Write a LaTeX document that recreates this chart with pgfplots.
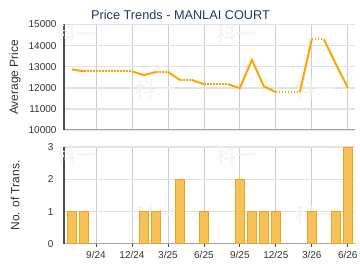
\documentclass[border=0pt]{standalone}
\usepackage{pgfplots}
\pgfplotsset{compat=1.18}
\usepackage{fontspec}
\setmainfont{Liberation Sans}
\newfontfamily\cjk{Noto Sans CJK SC}
\definecolor{lineor}{HTML}{FFA500}
\definecolor{titleblue}{HTML}{1F3B5E}
\definecolor{vgrid}{HTML}{CCCCCC}
\definecolor{hgrid}{HTML}{E2E2E2}
\definecolor{barfill}{HTML}{F6C157}
\definecolor{bardark}{HTML}{EFA21E}
\definecolor{wm}{HTML}{F2F2F2}
\pgfplotsset{
  common/.style={
    scale only axis,
    width=291pt,
    xmin=-2.667, xmax=21.6,
    xtick={0,3,6,9,12,15,18,21},
    axis x line*=bottom,
    axis y line*=left,
    x axis line style={draw=gray!70, line width=1pt, -},
    y axis line style={draw=black!70, line width=1.2pt, -},
    xmajorgrids, ymajorgrids,
    x grid style={vgrid, line width=0.8pt},
    y grid style={hgrid, line width=1.6pt},
    ytick style={draw=none},
    tick label style={font=\fontsize{10}{12}\selectfont, text=black!80},
    /pgf/number format/assume math mode=true,
    scaled y ticks=false,
    label style={font=\fontsize{12}{14}\selectfont, text=black!80},
    yticklabel style={xshift=-4pt},
    ylabel style={at={(axis description cs:-0.168,0.5)}, anchor=center},
    clip=false,
  },
}
\begin{document}
\begin{tikzpicture}
\useasboundingbox[fill=white] (0pt,0pt) rectangle (360pt,270pt);
\node[font=\fontsize{12.7}{14}\selectfont, text=titleblue] at (180.5pt,255pt) {Price Trends - MANLAI COURT};
% top axis
\begin{axis}[common,
  at={(64pt,140pt)}, anchor=south west,
  height=105.5pt,
  ymin=10000, ymax=15000,
  ytick={10000,11000,12000,13000,14000,15000},
  xticklabels={},
  xtick style={draw=none},
  /pgf/number format/1000 sep={},
  ylabel={Average Price},
]
\node[font=\cjk\fontsize{20}{20}\selectfont, text=wm] at (axis cs:-1.6,14550) {科一};
\node[font=\cjk\fontsize{20}{20}\selectfont, text=wm] at (axis cs:11.75,14550) {科一};
\node[font=\cjk\fontsize{20}{20}\selectfont, text=wm] at (axis cs:5.0,11950) {科一};
\node[font=\cjk\fontsize{20}{20}\selectfont, text=wm] at (axis cs:18.3,11950) {科一};
\addplot[lineor, line width=2pt, unbounded coords=jump] coordinates {
(-2,12870) (-1,12780)
(nan,nan)
(3,12780) (4,12600) (5,12750)
(nan,nan)
(6,12750) (7,12370)
(nan,nan)
(8,12370) (9,12170)
(nan,nan)
(11,12170) (12,11980) (13,13320) (14,12070) (15,11800)
(nan,nan)
(17,11800) (18,14300)
(nan,nan)
(19,14300) (20,13130) (21,12000)
};
\addplot[lineor, line width=2pt, dash pattern=on 1.6pt off 1.4pt, unbounded coords=jump] coordinates {
(-1,12780) (3,12780)
(nan,nan)
(5,12750) (6,12750)
(nan,nan)
(7,12370) (8,12370)
(nan,nan)
(9,12170) (11,12170)
(nan,nan)
(15,11800) (17,11800)
(nan,nan)
(18,14300) (19,14300)
};
\end{axis}
% bottom axis
\begin{axis}[common,
  at={(64pt,26.3pt)}, anchor=south west,
  height=96.4pt,
  ymin=0, ymax=3,
  ytick={0,1,2,3},
  xticklabels={9/24,12/24,3/25,6/25,9/25,12/25,3/26,6/26},
  xtick style={draw=black!70, line width=0.8pt},
  major tick length=3pt,
  tick align=outside,
  xticklabel style={yshift=-1pt},
  ylabel={No. of Trans.},
]
\node[font=\cjk\fontsize{20}{20}\selectfont, text=wm] at (axis cs:-1.6,2.75) {科一};
\node[font=\cjk\fontsize{20}{20}\selectfont, text=wm] at (axis cs:11.75,2.75) {科一};
\node[font=\cjk\fontsize{20}{20}\selectfont, text=wm] at (axis cs:5.0,0.9) {科一};
\node[font=\cjk\fontsize{20}{20}\selectfont, text=wm] at (axis cs:18.3,0.9) {科一};
\addplot[ybar, bar width=8.6pt, draw=bardark, line width=0.7pt, fill=barfill] coordinates {
(-2,1) (-1,1) (4,1) (5,1) (7,2) (9,1) (12,2) (13,1) (14,1) (15,1) (18,1) (20,1) (21,3)
};
\end{axis}
\end{tikzpicture}
\end{document}
